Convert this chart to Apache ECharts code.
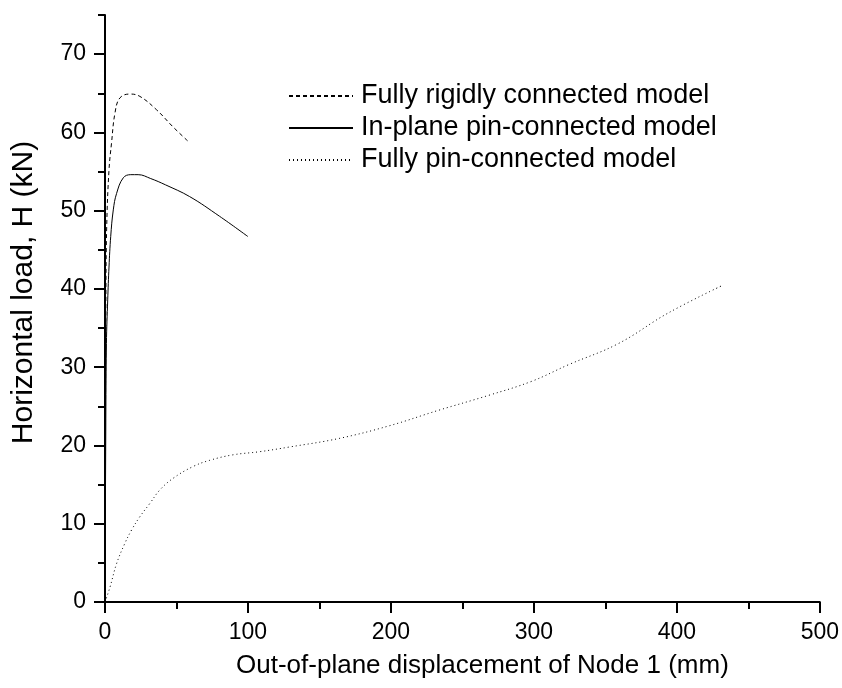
<!DOCTYPE html>
<html>
<head>
<meta charset="utf-8">
<script src="https://cdn.jsdelivr.net/npm/echarts@6/dist/echarts.min.js"></script>
<style>html,body{margin:0;padding:0;background:#fff;}#c{width:842px;height:688px;}</style>
</head>
<body>
<div id="c"></div>
<script>
const seriesNames = ['Fully rigidly connected model', 'In-plane pin-connected model', 'Fully pin-connected model'];
const rigidData = [[0,0],[0.3,20],[0.6,38],[1.2,48],[2.8,55.2],[4.6,58.7],[7,62.5],[10.4,64.4],[17.4,64.9],[24.4,64.6],[36,62.9],[47.6,60.7],[58.5,58.8]];
const inPlaneData = [[0,0],[0.5,20],[1.0,33],[1.9,38.6],[2.8,42.8],[4,46.7],[5.8,50.1],[8.1,52.2],[12.8,54.2],[18,54.6],[23.2,54.6],[32,54.1],[42.3,53.3],[59.2,51.8],[80,49.3],[99.9,46.7]];
const pinData = [[0,0],[3.5,1.9],[8.1,4.9],[13.9,7.5],[18.6,9.2],[24.4,10.9],[31.4,12.6],[38.3,14.3],[47.6,15.8],[61.5,17.3],[73.2,18.1],[89.4,18.8],[108,19.2],[128.9,19.8],[163.8,20.9],[198.6,22.5],[233.4,24.5],[268.3,26.4],[298.5,28.2],[324,30.3],[358.9,33.0],[393.7,36.9],[431.3,40.4]];
const yMajorTicks = [0,10,20,30,40,50,60,70];
const yMinorTicks = [5,15,25,35,45,55,65,75];
const xTitle = 'Out-of-plane displacement of Node 1 (mm)';
const yTitle = 'Horizontal load, H (kN)';

const font = '"Liberation Sans", Arial, sans-serif';
const chart = echarts.init(document.getElementById('c'), null, {renderer: 'canvas'});
const axisLineStyle = {color: '#000', width: 2};
chart.setOption({
  animation: false,
  backgroundColor: '#fff',
  grid: {left: 105, right: 19, top: 15, bottom: 86, containLabel: false},
  legend: {
    orient: 'vertical', left: 283, top: 77, itemWidth: 64, itemHeight: 14, itemGap: 4,
    itemStyle: {opacity: 0},
    textStyle: {fontFamily: font, fontSize: 27, color: '#000', lineHeight: 28, padding: [0,0,0,3]},
    data: seriesNames
  },
  xAxis: {
    type: 'value', min: 0, max: 500, interval: 100,
    name: xTitle, nameLocation: 'middle', nameGap: 51,
    nameTextStyle: {fontFamily: font, fontSize: 26, color: '#000', padding: [0,0,0,40]},
    axisLine: {show: true, lineStyle: axisLineStyle},
    axisTick: {show: true, inside: false, length: 11, lineStyle: axisLineStyle},
    minorTick: {show: true, splitNumber: 2, length: 7, lineStyle: axisLineStyle},
    axisLabel: {fontFamily: font, fontSize: 23, color: '#000', margin: 19},
    splitLine: {show: false}
  },
  yAxis: [{
    type: 'value', min: 0, max: 75, interval: 10,
    name: yTitle, nameLocation: 'middle', nameGap: 66,
    nameTextStyle: {fontFamily: font, fontSize: 30, color: '#000', padding: [0,0,0,32]},
    axisLine: {show: true, lineStyle: axisLineStyle},
    axisTick: {show: true, inside: false, length: 11, lineStyle: axisLineStyle, customValues: yMajorTicks},
    axisLabel: {fontFamily: font, fontSize: 23, color: '#000', margin: 19, customValues: yMajorTicks},
    splitLine: {show: false}
  }, {
    type: 'value', min: 0, max: 75, interval: 5, position: 'left',
    axisLine: {show: false},
    axisTick: {show: true, inside: false, length: 7, lineStyle: axisLineStyle, customValues: yMinorTicks},
    axisLabel: {show: false},
    splitLine: {show: false}
  }],
  series: [
    {name: seriesNames[0], type: 'line', data: rigidData, symbol: 'none', smooth: 0.4,
     lineStyle: {color: '#000', width: 1, type: [4, 3]}, itemStyle: {color: '#000'}},
    {name: seriesNames[1], type: 'line', data: inPlaneData, symbol: 'none', smooth: 0.4,
     lineStyle: {color: '#000', width: 1, type: 'solid'}, itemStyle: {color: '#000'}},
    {name: seriesNames[2], type: 'line', data: pinData, symbol: 'none', smooth: 0.4,
     lineStyle: {color: '#000', width: 1, type: [1, 3]}, itemStyle: {color: '#000'}}
  ]
});
</script>
</body>
</html>
